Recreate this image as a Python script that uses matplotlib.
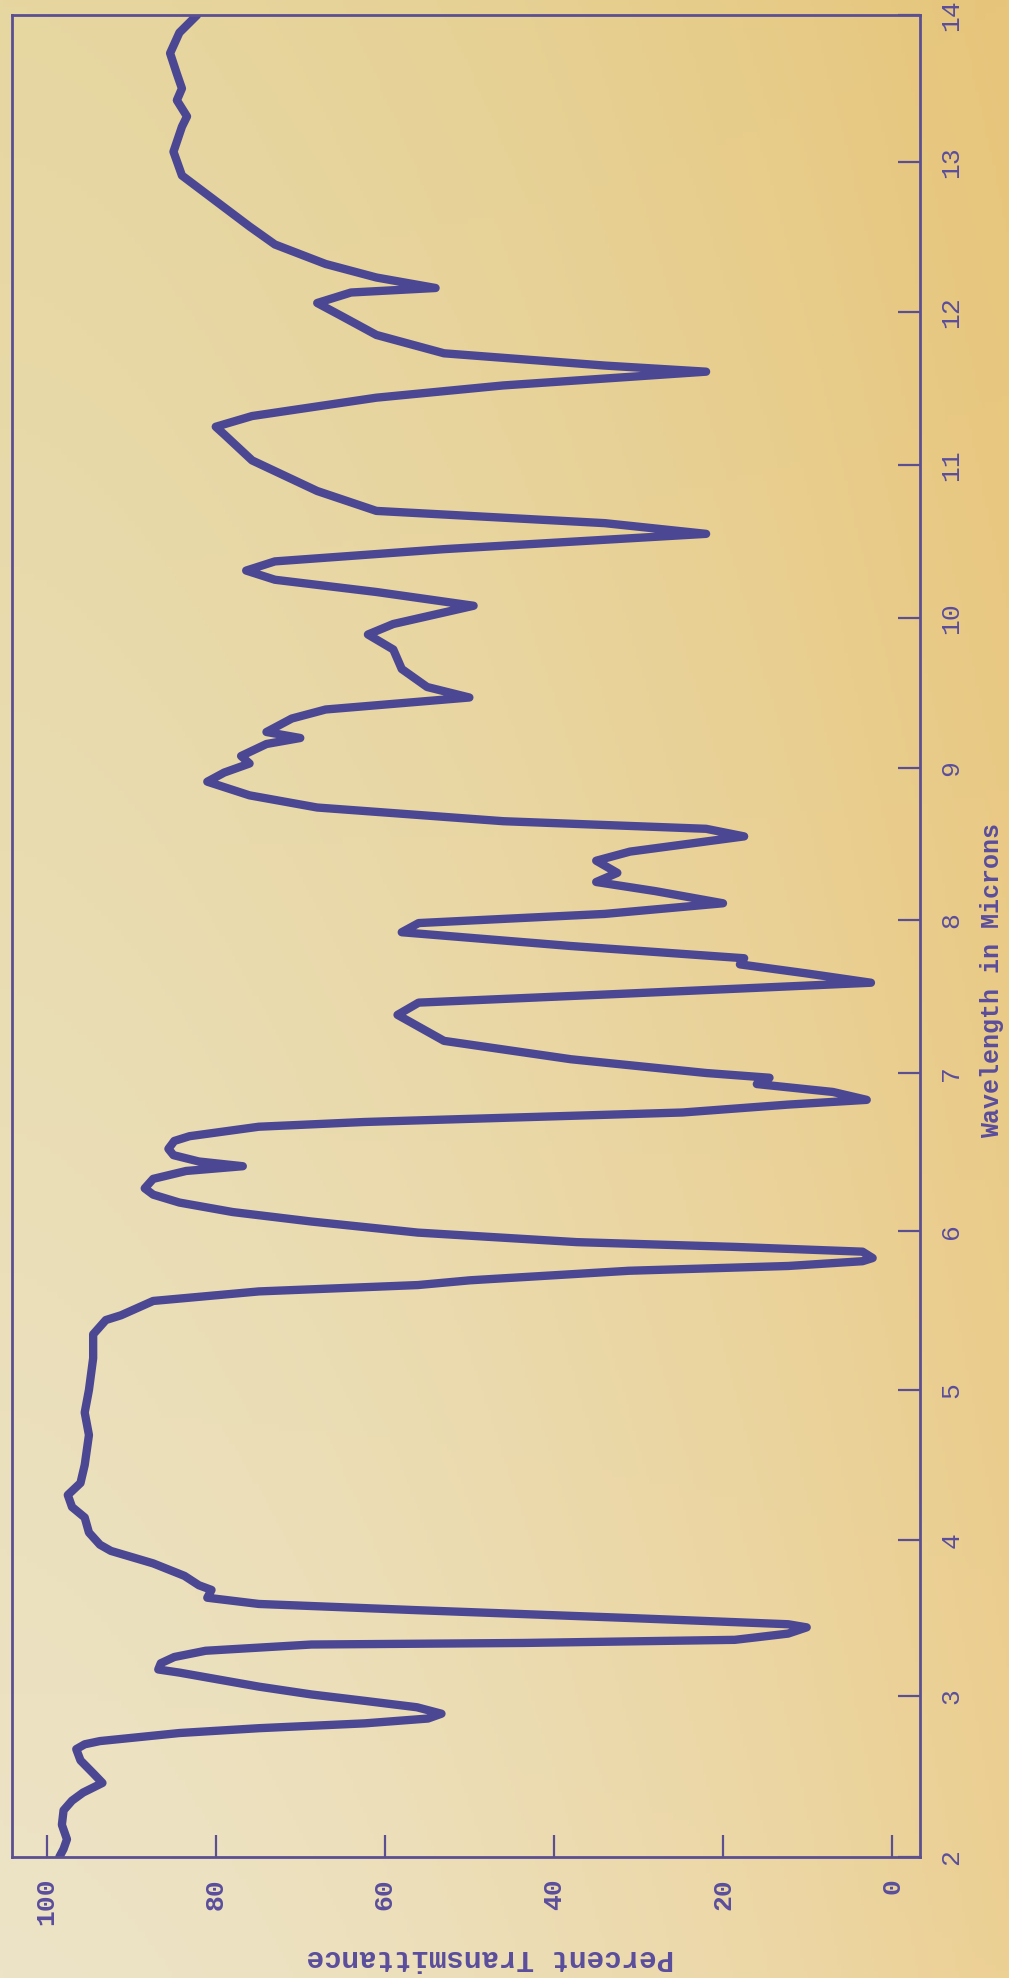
import numpy as np
import matplotlib
matplotlib.use("Agg")
import matplotlib.pyplot as plt

# Infrared spectrum (microns, percent transmittance)
wavelength = [
    2.00, 2.05, 2.11, 2.20, 2.29, 2.35, 2.40, 2.46, 2.52, 2.60, 2.67, 2.70, 2.72,
    2.77, 2.80, 2.83, 2.86, 2.89, 2.93, 2.97, 3.01, 3.06, 3.12, 3.15, 3.17, 3.21,
    3.25, 3.29, 3.33, 3.34, 3.36, 3.40, 3.44, 3.46, 3.50, 3.55, 3.59, 3.63, 3.68,
    3.71, 3.77, 3.85, 3.93, 3.97, 4.05, 4.15, 4.22, 4.30, 4.38, 4.50, 4.70, 4.85,
    5.00, 5.20, 5.35, 5.44, 5.47, 5.56, 5.62, 5.66, 5.69, 5.75, 5.78, 5.81, 5.83,
    5.87, 5.90, 5.93, 5.99, 6.06, 6.12, 6.18, 6.23, 6.27, 6.33, 6.38, 6.41, 6.44,
    6.48, 6.52, 6.57, 6.60, 6.66, 6.69, 6.72, 6.75, 6.80, 6.83, 6.88, 6.93, 6.97,
    7.00, 7.09, 7.21, 7.38, 7.46, 7.52, 7.59, 7.65, 7.71, 7.75, 7.83, 7.92, 7.98,
    8.04, 8.11, 8.19, 8.25, 8.31, 8.39, 8.45, 8.55, 8.60, 8.65, 8.74, 8.82, 8.91,
    8.97, 9.03, 9.08, 9.16, 9.20, 9.24, 9.33, 9.39, 9.47, 9.54, 9.66, 9.79, 9.89,
    9.96, 10.08, 10.17, 10.25, 10.31, 10.37, 10.45, 10.55, 10.62, 10.70, 10.83,
    11.03, 11.20, 11.25, 11.32, 11.44, 11.52, 11.61, 11.65, 11.73, 11.85, 11.97,
    12.06, 12.13, 12.16, 12.23, 12.32, 12.45, 12.57, 12.74, 12.91, 13.07, 13.24,
    13.31, 13.42, 13.50, 13.60, 13.74, 13.88, 14.00,
]
transmittance = [
    98.5, 98.0, 97.6, 98.2, 98.0, 97.0, 95.7, 93.4, 94.5, 96.0, 96.5, 95.5, 93.7,
    84.3, 74.9, 62.4, 54.9, 53.3, 56.2, 62.4, 68.7, 74.9, 81.2, 84.3, 86.8, 86.5,
    84.9, 81.2, 68.7, 43.6, 18.6, 12.3, 10.1, 12.3, 31.1, 56.1, 74.9, 81.0, 80.5,
    82.0, 83.7, 87.4, 92.4, 93.7, 95.0, 95.5, 97.0, 97.5, 96.0, 95.5, 95.0, 95.5,
    95.0, 94.5, 94.5, 93.0, 91.2, 87.4, 74.9, 56.1, 49.9, 31.1, 12.3, 3.5, 2.3,
    3.5, 18.6, 37.3, 56.1, 68.7, 78.0, 84.3, 87.4, 88.4, 87.4, 83.5, 76.8, 82.0,
    85.0, 85.6, 84.9, 83.1, 74.9, 62.4, 43.6, 24.8, 12.3, 3.0, 7.0, 16.0, 14.5,
    22.0, 38.0, 53.0, 58.5, 56.0, 31.0, 2.5, 10.0, 18.0, 17.5, 38.0, 58.0, 56.0,
    34.0, 20.0, 28.0, 35.0, 32.5, 35.0, 31.0, 17.5, 22.0, 46.0, 68.0, 76.0, 81.0,
    79.0, 76.0, 77.0, 74.0, 70.0, 74.0, 71.0, 67.0, 50.0, 55.0, 58.0, 59.0, 62.0,
    59.0, 49.5, 61.0, 73.0, 76.4, 73.0, 53.0, 22.0, 34.0, 61.0, 68.0,
    75.7, 79.0, 80.0, 75.7, 61.0, 46.0, 22.0, 34.0, 53.0, 61.0, 65.0,
    68.0, 64.0, 54.0, 61.0, 67.0, 73.0, 76.0, 80.0, 84.0, 85.0, 84.0,
    83.4, 84.6, 84.0, 84.6, 85.4, 84.3, 82.2,
]

wl_ticks = [2, 3, 4, 5, 6, 7, 8, 9, 10, 11, 12, 13, 14]
t_ticks = [0, 20, 40, 60, 80, 100]

# the chart paper's micron scale is not evenly ruled; relative ruling of each tick
wl_ruling = [0, 161, 317, 467, 626, 784, 937, 1089, 1239, 1392, 1545, 1695, 1842]


def wl_forward(v):
    v = np.asarray(v, dtype=float)
    out = np.interp(v, wl_ticks, wl_ruling)
    out = np.where(v < wl_ticks[0], wl_ruling[0] + (v - wl_ticks[0]) * 161, out)
    out = np.where(v > wl_ticks[-1], wl_ruling[-1] + (v - wl_ticks[-1]) * 147, out)
    return out


def wl_inverse(d):
    d = np.asarray(d, dtype=float)
    out = np.interp(d, wl_ruling, wl_ticks)
    out = np.where(d < wl_ruling[0], wl_ticks[0] + (d - wl_ruling[0]) / 161, out)
    out = np.where(d > wl_ruling[-1], wl_ticks[-1] + (d - wl_ruling[-1]) / 147, out)
    return out


ink = "#4c4792"
frame_ink = "#5b4f92"
type_ink = "#5a4d9c"

W, H = 1009, 1978
fig = plt.figure(figsize=(W / 100, H / 100), dpi=100)

# yellowed paper background
bg = fig.add_axes([0, 0, 1, 1], zorder=0)
u = np.linspace(0, 1, 300) ** 1.6
v = np.linspace(0, 1, 300)[:, None]
left_bot = np.array([237, 228, 199]) / 255
left_top = np.array([230, 214, 160]) / 255
right_bot = np.array([236, 208, 148]) / 255
right_top = np.array([231, 197, 122]) / 255
left = left_bot * (1 - v[..., None]) + left_top * v[..., None]
right = right_bot * (1 - v[..., None]) + right_top * v[..., None]
paper = left * (1 - u[None, :, None]) + right * u[None, :, None]
bg.imshow(paper, aspect="auto", extent=[0, 1, 0, 1], origin="lower")
bg.set_axis_off()

ax = fig.add_axes([12 / W, (H - 1857) / H, 908 / W, 1842 / H], zorder=1)
ax.patch.set_alpha(0)

ax.set_yscale("function", functions=(wl_forward, wl_inverse))
ax.plot(transmittance, wavelength, color=ink, lw=6,
        solid_capstyle="round", solid_joinstyle="round")

ax.set_xlim(104.1, -3.3)
ax.set_ylim(2, 14)

ax.set_xticks(t_ticks)
ax.set_xticklabels([str(t) for t in t_ticks])
ax.set_yticks(wl_ticks)
ax.set_yticklabels([str(w) for w in wl_ticks])
ax.yaxis.tick_right()
ax.xaxis.tick_bottom()
ax.minorticks_off()

ax.tick_params(axis="x", direction="in", length=16, width=1.6, color=frame_ink,
               labelcolor=type_ink, labelsize=19, pad=15, labelrotation=90)
ax.tick_params(axis="y", direction="in", length=16, width=1.6, color=frame_ink,
               labelcolor=type_ink, labelsize=19, pad=14, labelrotation=90)
for lbl in ax.get_xticklabels():
    lbl.set_fontfamily("Liberation Mono")
    lbl.set_fontweight("bold")
for lbl in ax.get_yticklabels():
    lbl.set_fontfamily("Liberation Mono")
    lbl.set_va("center")

for s in ax.spines.values():
    s.set_color(frame_ink)
    s.set_linewidth(2.0)

fig.text(992 / W, 1 - 980 / H, "Wavelength in Microns", rotation=90,
         ha="center", va="center", fontsize=18, fontweight="bold",
         family="Liberation Mono", color=type_ink)
fig.text(490 / W, 1 - 1958 / H, "Percent Transmittance", rotation=180,
         ha="center", va="center", fontsize=21, fontweight="bold",
         family="Liberation Mono", color=type_ink)

fig.savefig("out.png", dpi=100)
